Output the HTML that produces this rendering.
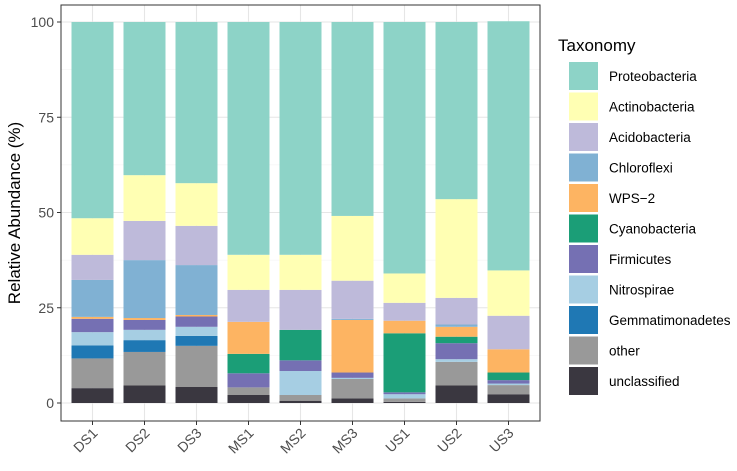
<!DOCTYPE html>
<html><head><meta charset="utf-8"><style>
body{margin:0;background:#fff;font-family:"Liberation Sans",Arial,sans-serif}
</style></head><body>
<svg id="chart" width="737" height="466" xmlns="http://www.w3.org/2000/svg" font-family="Liberation Sans, Arial, sans-serif"></svg>
<script>
const samples=["DS1","DS2","DS3","MS1","MS2","MS3","US1","US2","US3"];
const taxa=["Proteobacteria","Actinobacteria","Acidobacteria","Chloroflexi","WPS−2","Cyanobacteria","Firmicutes","Nitrospirae","Gemmatimonadetes","other","unclassified"];
const colors=["#8DD3C7","#FFFFB3","#BEBADA","#80B1D3","#FDB462","#1B9E77","#7570B3","#A6CEE3","#1F78B4","#999999","#3A3740"];
// stack from bottom: unclassified, other, Gemm, Nitro, Firm, Cyano, WPS-2, Chloro, Acido, Actino, Proteo
const unclassified=[3.9,4.6,4.2,2.1,0.6,1.2,0.3,4.6,2.3];
const other=[7.8,8.8,10.8,2.0,1.5,5.1,0.9,6.2,2.4];
const gemmatimonadetes=[3.4,3.1,2.6,0,0,0,0,0,0];
const nitrospirae=[3.5,2.7,2.4,0,6.3,0.3,1.1,0.7,0.4];
const firmicutes=[3.5,2.6,2.7,3.7,2.8,1.4,0.5,4.2,0.9];
const cyanobacteria=[0,0,0,5.1,8.0,0,15.5,1.7,2.0];
const wps2=[0.5,0.5,0.4,8.4,0,13.8,3.3,2.6,6.1];
const chloroflexi=[9.7,15.2,13.1,0,0,0.3,0,0.6,0];
const acidobacteria=[6.6,10.3,10.3,8.4,10.5,10.0,4.7,7.0,8.8];
const actinobacteria=[9.6,12.0,11.2,9.2,9.2,17.0,7.7,25.9,11.9];
const proteobacteria=[51.5,40.2,42.3,61.1,61.1,50.9,66.0,46.5,65.4];
const stackOrder=[unclassified,other,gemmatimonadetes,nitrospirae,firmicutes,cyanobacteria,wps2,chloroflexi,acidobacteria,actinobacteria,proteobacteria];
const stackColorIdx=[10,9,8,7,6,5,4,3,2,1,0];
const yTicks=[0,25,50,75,100];
const NS="http://www.w3.org/2000/svg";
const svg=document.getElementById('chart');
function mk(t,a,p){const e=document.createElementNS(NS,t);for(const k in a)e.setAttribute(k,a[k]);(p||svg).appendChild(e);return e;}
const L=61,R=540,T=5,B=421;
const y=v=>403-v*3.81;
const x=i=>92.5+i*52;
const bw=42;
let panel=mk('rect',{x:L,y:T,width:R-L,height:B-T,fill:'#fff',stroke:'#333','stroke-width':1});

// grid
[12.5,37.5,62.5,87.5].forEach(v=>{mk('line',{x1:L,x2:R,y1:y(v),y2:y(v),stroke:'#f0f0f0','stroke-width':0.6});});
yTicks.forEach(v=>{let g=mk('line',{x1:L,x2:R,y1:y(v),y2:y(v),stroke:'#e6e6e6','stroke-width':1.1});});
samples.forEach((s,i)=>{mk('line',{x1:x(i),x2:x(i),y1:T,y2:B,stroke:'#e6e6e6','stroke-width':1.1});});
// bars
samples.forEach((s,i)=>{let c=0;stackOrder.forEach((arr,k)=>{const v=arr[i];if(v<=0)return;const r=mk('rect',{x:x(i)-bw/2,y:y(c+v),width:bw,height:v*3.81,fill:colors[stackColorIdx[k]]});

c+=v;});});
mk('rect',{x:L,y:T,width:R-L,height:B-T,fill:'none',stroke:'#333','stroke-width':1});
// y axis
yTicks.forEach(v=>{mk('line',{x1:L-4,x2:L,y1:y(v),y2:y(v),stroke:'#333','stroke-width':1});
const t=mk('text',{x:L-7,y:y(v)+5,'text-anchor':'end','font-size':14,fill:'#4d4d4d'});t.textContent=v;
});
const yt=mk('text',{transform:'translate(20,213) rotate(-90)','text-anchor':'middle','font-size':17,fill:'#000'});yt.textContent='Relative Abundance (%)';

// x axis
samples.forEach((s,i)=>{mk('line',{x1:x(i),x2:x(i),y1:B,y2:B+4,stroke:'#333','stroke-width':1});
const t=mk('text',{transform:`translate(${x(i)+6},${B+13}) rotate(-45)`,'text-anchor':'end','font-size':14,fill:'#4d4d4d'});t.textContent=s;
});
// legend
const lt=mk('text',{x:558,y:51,'font-size':17,fill:'#000'});lt.textContent='Taxonomy';

taxa.forEach((n,i)=>{const g=mk('g',{});
mk('rect',{x:569,y:62+i*30.5,width:29,height:28,fill:colors[i]},g);
const t=mk('text',{x:609,y:81+i*30.5,'font-size':13.5,fill:'#000'},g);t.textContent=n;});
</script>
</body></html>
